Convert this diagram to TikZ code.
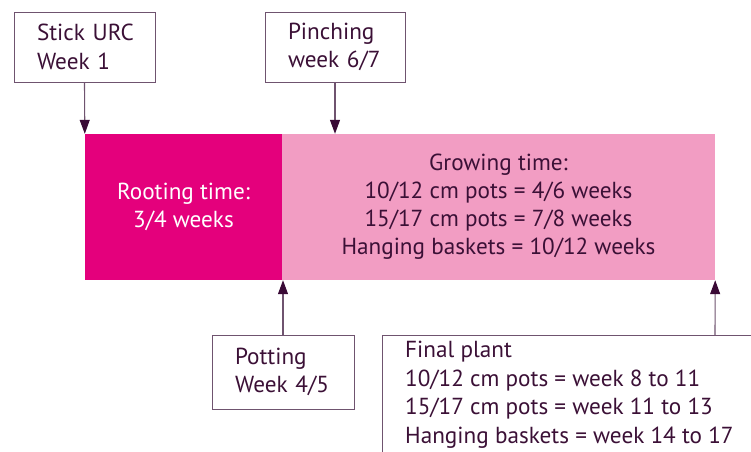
\documentclass[tikz,border=0pt]{standalone}
\usepackage{fontspec}
\setmainfont{PT Sans}
\usetikzlibrary{arrows.meta}
\definecolor{darkpink}{HTML}{E4007C}
\definecolor{lightpink}{HTML}{F29DC3}
\definecolor{txt}{HTML}{3B1036}
\definecolor{frame}{HTML}{6F536F}
\definecolor{head}{HTML}{3A0A36}
\tikzset{
  lbl/.style={draw=frame, line width=0.9pt, text=txt, inner sep=0pt, align=left,
    font=\fontsize{23.2}{28.5}\selectfont},
  bar/.style={draw=none, inner sep=0pt, align=center, font=\fontsize{23.2}{28}\selectfont},
  conn/.style={draw=frame, line width=1.1pt, -{Triangle[width=10pt,length=14pt,fill=head,color=head]}}
}
\begin{document}
\begin{tikzpicture}[x=1pt,y=-1pt]
\useasboundingbox (0,0) rectangle (751,451);
\clip (0,0) rectangle (751,451);
% bars
\node[bar, fill=darkpink, text=white, minimum width=197pt, minimum height=146pt] (root) at (183.5,207) {Rooting time:\\3/4 weeks};
\node[bar, fill=lightpink, text=txt, minimum width=433pt, minimum height=146pt] (grow) at (498.5,207) {Growing time:\\10/12 cm pots = 4/6 weeks\\15/17 cm pots = 7/8 weeks\\Hanging baskets = 10/12 weeks};
% label boxes
\node[lbl, minimum width=141pt, minimum height=70pt, text width=101pt] (stick) at (84.5,47) {\hspace*{3pt}Stick URC\\\hspace*{3pt}Week 1};
\node[lbl, minimum width=140pt, minimum height=70pt, text width=94pt] (pinch) at (335,47) {Pinching\\week 6/7};
\node[lbl, minimum width=142pt, minimum height=74pt, text width=96pt] (pot) at (283,372) {Potting\\Week 4/5};
% final plant
\draw[frame, line width=0.9pt] (382,470) -- (382,335) -- (770,335);
\coordinate (ftop) at (715,335);
\node[anchor=north west, inner sep=0pt, align=left, text=txt, font=\fontsize{23.2}{28.5}\selectfont] (final) at (405,341) {Final plant\\10/12 cm pots = week 8 to 11\\15/17 cm pots = week 11 to 13\\Hanging baskets = week 14 to 17};
% connectors
\draw[conn] (stick.south) -- (root.north west);
\draw[conn] (pinch.south) -- (pinch.south |- grow.north);
\draw[conn] (pot.north) -- (pot.north |- root.south);
\draw[conn] (ftop) -- (grow.south east);
\end{tikzpicture}
\end{document}
